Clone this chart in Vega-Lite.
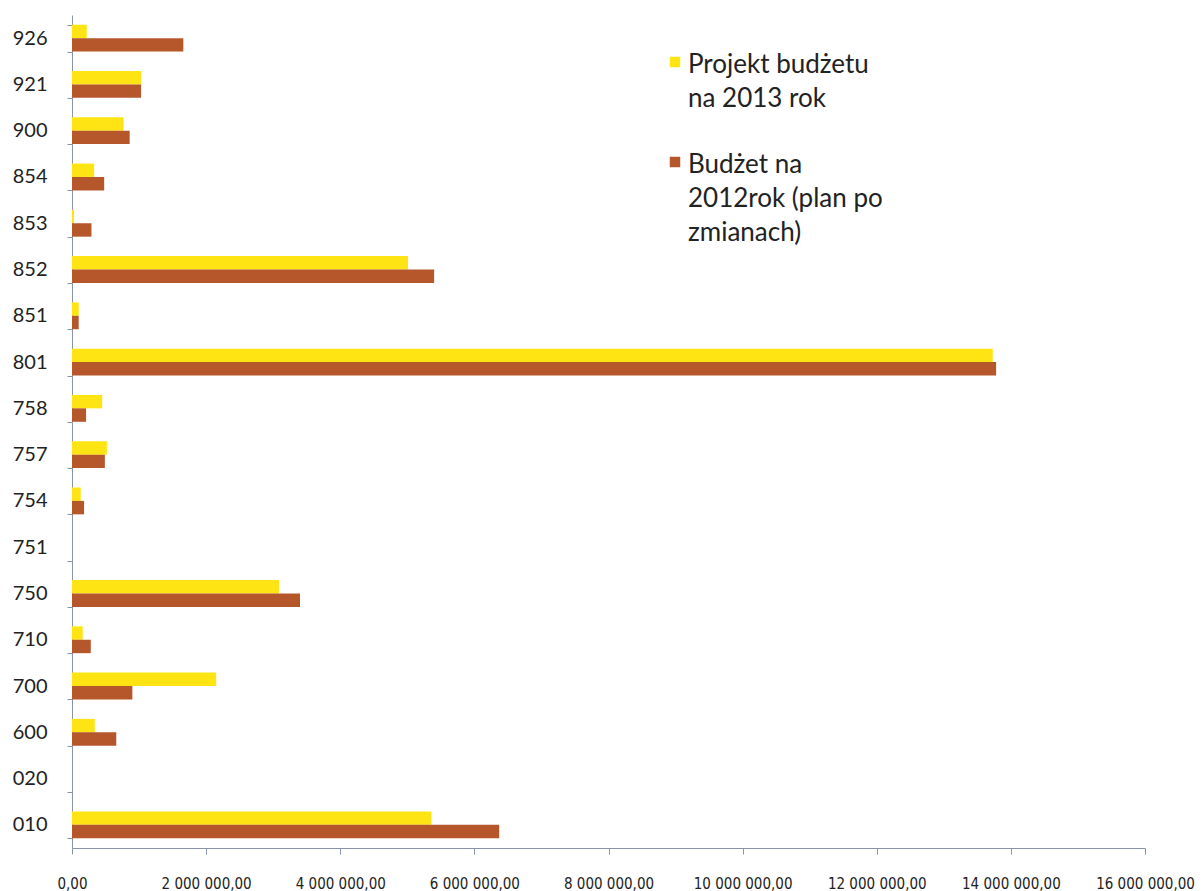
{
  "$schema": "https://vega.github.io/schema/vega-lite/v6.json",
  "width": 1073,
  "height": 833,
  "autosize": "none",
  "padding": {"left": 72, "top": 15, "right": 59, "bottom": 43},
  "background": "white",
  "config": {
    "view": {"stroke": null},
    "font": "Lato",
    "style": {"guide-label": {"lineHeight": 34, "dy": -10}},
    "locale": {
      "number": {"decimal": ",", "thousands": " ", "grouping": [3], "currency": ["", ""]}
    }
  },
  "data": {
    "values": [
      {"dzial": "926", "seria": "Projekt budżetu|na 2013 rok", "kwota": 220000},
      {"dzial": "926", "seria": "Budżet na|2012rok (plan po|zmianach)", "kwota": 1660000},
      {"dzial": "921", "seria": "Projekt budżetu|na 2013 rok", "kwota": 1030000},
      {"dzial": "921", "seria": "Budżet na|2012rok (plan po|zmianach)", "kwota": 1030000},
      {"dzial": "900", "seria": "Projekt budżetu|na 2013 rok", "kwota": 770000},
      {"dzial": "900", "seria": "Budżet na|2012rok (plan po|zmianach)", "kwota": 860000},
      {"dzial": "854", "seria": "Projekt budżetu|na 2013 rok", "kwota": 330000},
      {"dzial": "854", "seria": "Budżet na|2012rok (plan po|zmianach)", "kwota": 480000},
      {"dzial": "853", "seria": "Projekt budżetu|na 2013 rok", "kwota": 30000},
      {"dzial": "853", "seria": "Budżet na|2012rok (plan po|zmianach)", "kwota": 290000},
      {"dzial": "852", "seria": "Projekt budżetu|na 2013 rok", "kwota": 5010000},
      {"dzial": "852", "seria": "Budżet na|2012rok (plan po|zmianach)", "kwota": 5400000},
      {"dzial": "851", "seria": "Projekt budżetu|na 2013 rok", "kwota": 100000},
      {"dzial": "851", "seria": "Budżet na|2012rok (plan po|zmianach)", "kwota": 100000},
      {"dzial": "801", "seria": "Projekt budżetu|na 2013 rok", "kwota": 13730000},
      {"dzial": "801", "seria": "Budżet na|2012rok (plan po|zmianach)", "kwota": 13780000},
      {"dzial": "758", "seria": "Projekt budżetu|na 2013 rok", "kwota": 450000},
      {"dzial": "758", "seria": "Budżet na|2012rok (plan po|zmianach)", "kwota": 210000},
      {"dzial": "757", "seria": "Projekt budżetu|na 2013 rok", "kwota": 520000},
      {"dzial": "757", "seria": "Budżet na|2012rok (plan po|zmianach)", "kwota": 490000},
      {"dzial": "754", "seria": "Projekt budżetu|na 2013 rok", "kwota": 130000},
      {"dzial": "754", "seria": "Budżet na|2012rok (plan po|zmianach)", "kwota": 180000},
      {"dzial": "751", "seria": "Projekt budżetu|na 2013 rok", "kwota": 0},
      {"dzial": "751", "seria": "Budżet na|2012rok (plan po|zmianach)", "kwota": 0},
      {"dzial": "750", "seria": "Projekt budżetu|na 2013 rok", "kwota": 3090000},
      {"dzial": "750", "seria": "Budżet na|2012rok (plan po|zmianach)", "kwota": 3400000},
      {"dzial": "710", "seria": "Projekt budżetu|na 2013 rok", "kwota": 160000},
      {"dzial": "710", "seria": "Budżet na|2012rok (plan po|zmianach)", "kwota": 280000},
      {"dzial": "700", "seria": "Projekt budżetu|na 2013 rok", "kwota": 2150000},
      {"dzial": "700", "seria": "Budżet na|2012rok (plan po|zmianach)", "kwota": 900000},
      {"dzial": "600", "seria": "Projekt budżetu|na 2013 rok", "kwota": 340000},
      {"dzial": "600", "seria": "Budżet na|2012rok (plan po|zmianach)", "kwota": 660000},
      {"dzial": "020", "seria": "Projekt budżetu|na 2013 rok", "kwota": 0},
      {"dzial": "020", "seria": "Budżet na|2012rok (plan po|zmianach)", "kwota": 0},
      {"dzial": "010", "seria": "Projekt budżetu|na 2013 rok", "kwota": 5360000},
      {"dzial": "010", "seria": "Budżet na|2012rok (plan po|zmianach)", "kwota": 6370000}
    ]
  },
  "mark": {"type": "bar"},
  "encoding": {
    "y": {
      "field": "dzial",
      "type": "nominal",
      "sort": ["926", "921", "900", "854", "853", "852", "851", "801", "758", "757", "754", "751", "750", "710", "700", "600", "020", "010"],
      "scale": {"paddingInner": 0.42, "paddingOuter": 0.21},
      "axis": {
        "title": null,
        "labelFontSize": 20,
        "labelColor": "#222",
        "labelPadding": 20,
        "labelOffset": 10,
        "tickBand": "extent",
        "tickSize": 5,
        "tickColor": "#8a94a8",
        "domainColor": "#8a94a8",
        "labelFont": "Lato"
      }
    },
    "yOffset": {
      "field": "seria",
      "type": "nominal",
      "sort": ["Projekt budżetu|na 2013 rok", "Budżet na|2012rok (plan po|zmianach)"],
      "scale": {"paddingInner": 0, "paddingOuter": 0}
    },
    "x": {
      "field": "kwota",
      "type": "quantitative",
      "scale": {"domain": [0, 16000000]},
      "axis": {
        "title": null,
        "format": ",.2f",
        "values": [0, 2000000, 4000000, 6000000, 8000000, 10000000, 12000000, 14000000, 16000000],
        "grid": false,
        "labelOverlap": false,
        "labelBound": false,
        "labelFlush": false,
        "labelFontSize": 15,
        "labelColor": "#222",
        "labelPadding": 32,
        "tickSize": 6,
        "tickColor": "#8a94a8",
        "domainColor": "#8a94a8",
        "labelFont": "DejaVu Sans Condensed"
      }
    },
    "color": {
      "field": "seria",
      "type": "nominal",
      "sort": ["Projekt budżetu|na 2013 rok", "Budżet na|2012rok (plan po|zmianach)"],
      "scale": {"range": ["#FFE414", "#B5562B"]},
      "legend": {
        "title": null,
        "orient": "none",
        "legendX": 590,
        "legendY": 34,
        "symbolType": "square",
        "symbolSize": 110,
        "symbolStrokeWidth": 0,
        "labelFontSize": 26,
        "labelColor": "#222",
        "labelFont": "Lato",
        "labelExpr": "split(datum.label, '|')",
        "labelLimit": 300,
        "labelBaseline": "top",
        "labelOffset": 0,
        "rowPadding": 37
      }
    }
  }
}
